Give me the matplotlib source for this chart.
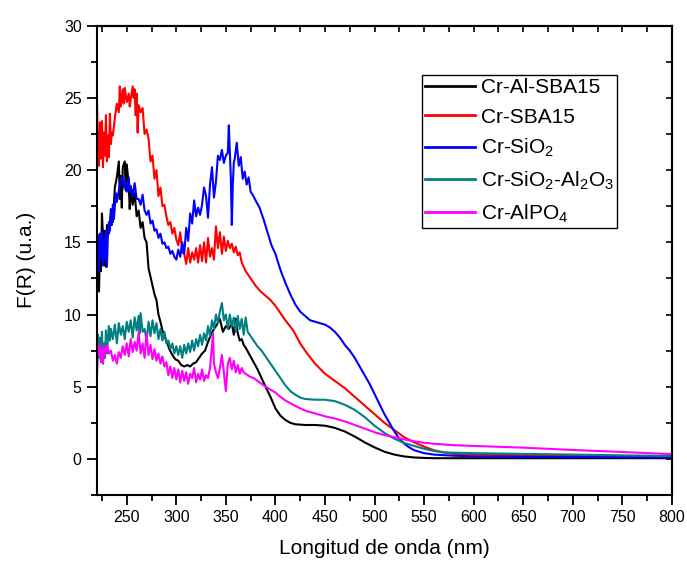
import numpy as np
import matplotlib
matplotlib.use("Agg")
import matplotlib.pyplot as plt
from matplotlib.ticker import MultipleLocator

plt.rcParams['font.family'] = ['Liberation Sans', 'DejaVu Sans']
plt.rcParams['mathtext.fontset'] = 'custom'
plt.rcParams['mathtext.rm'] = 'Liberation Sans'
plt.rcParams['mathtext.it'] = 'Liberation Sans:italic'

# Cr-Al-SBA15
wl_alsba = [220, 221, 222, 223, 224, 225, 226, 227, 228, 229, 230, 232, 234, 236, 238, 240,
            242, 243, 244, 245, 246, 248, 249, 250, 252, 253, 254, 256, 258, 260, 262, 264,
            266, 268, 270, 272, 274, 276, 278, 280, 282, 284, 286, 288, 290, 293, 296, 299,
            302, 305, 308, 311, 314, 317, 320, 323, 326, 329, 332, 335, 338, 341, 344, 347,
            350, 353, 356, 358, 360, 362, 364, 366, 368, 370, 374, 378, 382, 386, 390, 395,
            400, 405, 410, 415, 420, 430, 440, 450, 460, 470, 480, 490, 500, 510, 520, 530,
            540, 550, 560, 580, 600, 800]
fr_alsba = [12.0, 13.5, 11.6, 14.5, 13.0, 17.0, 15.5, 13.4, 15.8, 13.3, 16.2, 15.6, 17.0, 16.4, 18.8, 19.5,
            20.6, 18.0, 19.6, 17.4, 20.2, 20.6, 18.6, 20.4, 19.0, 17.3, 18.6, 17.6, 18.4, 16.8, 17.2, 16.0,
            16.4, 15.3, 15.0, 13.2, 12.6, 12.0, 11.4, 11.0, 10.0, 9.5, 8.9, 8.5, 8.2, 7.6, 7.2, 6.9,
            6.8, 6.5, 6.4, 6.5, 6.4, 6.6, 6.7, 7.0, 7.3, 7.5, 8.1, 8.6, 9.0, 9.3, 9.7, 8.8,
            9.2, 9.0, 9.4, 8.6, 9.7, 8.7, 8.2, 8.3, 7.9, 7.7, 7.2, 6.7, 6.2, 5.6, 5.0, 4.3,
            3.5, 3.0, 2.7, 2.5, 2.4, 2.35, 2.35, 2.3, 2.15, 1.9, 1.55, 1.15, 0.8, 0.5, 0.3, 0.17,
            0.1, 0.07, 0.05, 0.05, 0.05, 0.05]

# Cr-SBA15
wl_sba = [220, 221, 222, 223, 224, 225, 226, 227, 228, 229, 230, 231, 232, 233, 234, 235,
          236, 238, 240, 242, 243, 244, 246, 247, 248, 250, 252, 253, 254, 256, 257, 258,
          259, 260, 261, 262, 264, 266, 268, 270, 272, 274, 276, 278, 280, 282, 284, 286,
          288, 290, 292, 294, 296, 298, 300, 302, 304, 306, 308, 310, 312, 314, 316, 318,
          320, 322, 324, 326, 328, 330, 332, 334, 336, 338, 340, 342, 344, 346, 348, 350,
          352, 354, 356, 358, 360, 362, 364, 366, 368, 370, 375, 380, 385, 390, 395, 400,
          405, 410, 418, 425, 432, 440, 450, 460, 470, 480, 490, 500, 510, 520, 530, 540,
          550, 560, 570, 580, 600, 650, 700, 800]
fr_sba = [24.7, 21.5, 20.3, 23.3, 20.8, 23.4, 20.2, 22.6, 21.0, 23.8, 20.6, 22.4, 20.9, 23.9, 21.8, 22.6,
          22.4, 23.6, 24.6, 24.0, 25.8, 24.4, 25.6, 24.6, 25.7, 24.7, 25.3, 24.4, 24.9, 25.8, 25.0, 25.6,
          23.8, 25.3, 22.6, 24.5, 24.0, 24.3, 22.5, 22.8, 22.2, 20.6, 21.0, 19.4, 20.0, 18.2, 18.8, 17.5,
          17.6, 16.8, 16.2, 16.4, 15.6, 16.0, 15.2, 14.8, 15.7, 14.3, 14.2, 13.5, 14.6, 13.6, 14.3, 13.8,
          14.6, 13.6, 14.8, 13.7, 15.0, 13.6, 15.3, 14.0, 14.6, 13.8, 16.1, 14.6, 15.7, 14.2, 15.4, 14.4,
          15.1, 14.6, 14.9, 14.3, 14.7, 14.1, 14.3, 13.6, 13.3, 13.0, 12.5, 12.0, 11.6, 11.3, 11.0, 10.6,
          10.1, 9.6, 8.9, 8.0, 7.3, 6.6, 5.9, 5.4, 4.9, 4.3, 3.7, 3.1, 2.5, 2.0, 1.5, 1.15,
          0.85, 0.6, 0.45, 0.35, 0.3, 0.25, 0.2, 0.15]

# Cr-SiO2
wl_sio2 = [220, 221, 222, 223, 224, 225, 226, 227, 228, 229, 230, 231, 232, 233, 234, 235,
           236, 237, 238, 239, 240, 242, 244, 246, 247, 248, 250, 252, 253, 254, 256, 258,
           260, 262, 264, 266, 268, 270, 272, 274, 276, 278, 280, 282, 284, 286, 288, 290,
           292, 294, 296, 298, 300, 302, 304, 306, 308, 310, 312, 314, 316, 318, 320, 322,
           324, 326, 328, 330, 332, 334, 336, 338, 340, 342, 344, 346, 348, 350, 352, 353,
           355, 356, 357, 358, 359, 361, 363, 365, 367, 369, 371, 373, 375, 377, 380, 384,
           388, 392, 396, 400, 405, 410, 415, 420, 425, 430, 435, 440, 445, 450, 455, 460,
           465, 470, 475, 480, 485, 490, 495, 500, 505, 510, 515, 520, 525, 530, 535, 540,
           550, 560, 580, 600, 700, 800]
fr_sio2 = [13.2, 15.5, 13.0, 15.6, 14.0, 15.7, 13.4, 15.2, 13.8, 15.8, 13.3, 15.5, 16.4, 15.8, 17.3, 16.2,
           17.6, 16.6, 17.5, 18.4, 17.8, 18.6, 19.4, 19.6, 18.8, 19.2, 18.5, 19.5, 18.5, 18.9, 18.2, 19.1,
           18.0, 18.0, 17.6, 18.3, 17.2, 16.9, 17.2, 16.3, 16.5, 15.8, 15.9, 15.3, 15.6, 14.9, 15.0, 14.6,
           14.7, 14.2, 14.4, 14.0, 13.8, 14.5, 14.0, 15.0, 14.2, 16.0, 15.1, 17.0, 16.3, 17.9, 16.8, 17.4,
           16.9, 17.6, 18.8, 18.2, 16.7, 19.0, 20.2, 18.1, 19.2, 21.0, 20.7, 21.4, 20.5, 21.0, 21.2, 23.1,
           19.5, 16.2, 19.0, 20.5, 20.8, 21.9, 20.3, 20.9, 19.4, 19.9, 19.0, 19.5, 18.5, 18.3, 17.9, 17.4,
           16.6, 15.7, 14.8, 14.2, 13.1, 12.2, 11.4, 10.7, 10.2, 9.9, 9.6, 9.5, 9.4, 9.3, 9.1, 8.8,
           8.4, 7.9, 7.5, 7.0, 6.4, 5.8, 5.2, 4.5, 3.8, 3.1, 2.5, 1.9, 1.4, 1.05, 0.8, 0.6,
           0.4, 0.3, 0.22, 0.18, 0.12, 0.1]

# Cr-SiO2-Al2O3
wl_sial = [220, 221, 222, 223, 224, 225, 226, 227, 228, 229, 230, 232, 233, 234, 236, 238,
           240, 242, 244, 246, 248, 250, 252, 254, 256, 258, 260, 262, 263, 264, 266, 268,
           270, 272, 274, 276, 278, 280, 282, 284, 286, 288, 290, 292, 294, 296, 298, 300,
           302, 304, 306, 308, 310, 312, 314, 316, 318, 320, 322, 324, 326, 328, 330, 332,
           334, 336, 338, 340, 342, 344, 346, 348, 350, 352, 354, 356, 358, 360, 362, 364,
           366, 368, 370, 372, 374, 376, 378, 382, 386, 390, 395, 400, 405, 410, 415, 420,
           425, 430, 440, 450, 460, 470, 480, 490, 500, 510, 520, 530, 540, 550, 560, 570,
           600, 700, 800]
fr_sial = [5.7, 8.6, 7.0, 8.4, 6.7, 8.8, 6.6, 8.0, 7.0, 8.9, 7.3, 9.2, 8.2, 9.0, 8.3, 9.3,
           8.0, 9.4, 8.6, 9.2, 8.3, 9.5, 8.8, 9.6, 8.4, 9.8, 8.9, 9.9, 8.7, 10.1, 8.8, 9.0,
           8.2, 9.5, 8.5, 9.6, 8.7, 9.4, 8.3, 9.0, 8.2, 8.8, 8.0, 8.2, 7.6, 8.0, 7.3, 7.8,
           7.2, 7.8, 7.0, 7.9, 7.3, 8.0, 7.4, 8.2, 7.5, 8.3, 7.8, 8.6, 7.9, 8.7, 8.2, 9.2,
           8.5, 9.6, 9.0, 10.0, 9.4, 10.2, 10.8, 9.6, 10.0, 9.0, 10.0, 9.2, 9.8, 8.8, 9.9, 9.0,
           9.7, 8.6, 9.8, 8.8, 8.6, 8.4, 8.2, 7.8, 7.5, 7.1, 6.6, 6.1, 5.6, 5.1, 4.7, 4.45,
           4.25, 4.15, 4.1, 4.1, 4.0, 3.75, 3.4, 2.9, 2.3, 1.8, 1.4, 1.1, 0.9, 0.7, 0.55, 0.45,
           0.4, 0.3, 0.2]

# Cr-AlPO4
wl_alpo = [220, 221, 222, 223, 224, 225, 226, 227, 228, 230, 232, 234, 236, 238, 240, 242,
           244, 246, 248, 250, 252, 254, 256, 258, 260, 262, 264, 266, 268, 270, 272, 274,
           276, 278, 280, 282, 284, 286, 288, 290, 292, 294, 296, 298, 300, 302, 304, 306,
           308, 310, 312, 314, 316, 318, 320, 322, 324, 326, 328, 330, 332, 334, 336, 337,
           338, 340, 342, 344, 346, 348, 350, 352, 354, 356, 358, 360, 362, 364, 366, 368,
           370, 374, 378, 382, 386, 390, 395, 400, 405, 410, 418, 425, 432, 440, 450, 460,
           470, 480, 490, 500, 510, 520, 530, 540, 550, 560, 580, 600, 650, 700, 750, 800]
fr_alpo = [6.3, 8.0, 7.2, 7.8, 6.8, 7.6, 6.6, 7.8, 7.2, 7.9, 7.3, 7.5, 6.8, 7.2, 6.6, 7.4,
           7.0, 7.8, 7.2, 8.0, 7.1, 8.3, 7.4, 8.1, 7.5, 8.8, 7.3, 8.0, 7.0, 8.7, 7.2, 7.9,
           6.9, 7.6, 6.8, 7.3, 6.6, 7.1, 6.4, 6.7, 5.8, 6.4, 5.6, 6.3, 5.5, 6.2, 5.3, 6.1,
           5.4, 6.0, 5.2, 5.9, 5.6, 6.3, 5.3, 5.9, 5.5, 6.2, 5.4, 5.8, 5.6, 6.3, 7.8, 8.7,
           6.6, 6.0, 5.6, 6.3, 7.2, 6.0, 4.7, 6.6, 7.0, 6.2, 6.8, 6.0, 6.5, 5.9, 6.3, 6.0,
           5.9, 5.7, 5.6, 5.4, 5.2, 5.0, 4.8, 4.6, 4.3, 4.05, 3.75, 3.5, 3.3, 3.15, 2.95, 2.8,
           2.6, 2.35, 2.1, 1.85, 1.65, 1.5, 1.35, 1.22, 1.12, 1.05, 0.95, 0.9, 0.78, 0.62, 0.48, 0.33]

series = [
    (wl_alsba, fr_alsba, 'black', 'Cr-Al-SBA15'),
    (wl_sba, fr_sba, '#ff0000', 'Cr-SBA15'),
    (wl_sio2, fr_sio2, '#0000ff', 'Cr-SiO$_2$'),
    (wl_sial, fr_sial, '#008080', 'Cr-SiO$_2$-Al$_2$O$_3$'),
    (wl_alpo, fr_alpo, '#ff00ff', 'Cr-AlPO$_4$'),
]

fig = plt.figure(figsize=(6.87, 5.61), dpi=100)
ax = fig.add_axes([0.1412, 0.1176, 0.8368, 0.8366])

for wl, fr, c, lab in series:
    ax.plot(wl, fr, color=c, lw=1.5, label=lab)

ax.set_xlim(220, 800)
ax.set_ylim(-2.5, 30)
ax.xaxis.set_major_locator(MultipleLocator(50))
ax.xaxis.set_minor_locator(MultipleLocator(25))
ax.yaxis.set_major_locator(MultipleLocator(5))
ax.yaxis.set_minor_locator(MultipleLocator(2.5))
ax.tick_params(which='major', direction='out', length=7, width=1.3, labelsize=11.5, pad=4)
ax.tick_params(which='minor', direction='out', length=4, width=1.3)

# opposite sides: short ticks pointing inwards, no labels
top = ax.secondary_xaxis('top')
top.xaxis.set_major_locator(MultipleLocator(25))
top.tick_params(direction='in', length=4, width=1.2, labeltop=False)
right = ax.secondary_yaxis('right')
right.yaxis.set_major_locator(MultipleLocator(2.5))
right.tick_params(direction='in', length=4, width=1.2, labelright=False)

for s in ax.spines.values():
    s.set_linewidth(1.5)
for s in top.spines.values():
    s.set_linewidth(1.5)
for s in right.spines.values():
    s.set_linewidth(1.5)

ax.set_xlabel('Longitud de onda (nm)', fontsize=15, labelpad=10)
ax.set_ylabel('F(R) (u.a.)', fontsize=15, labelpad=20)

leg = ax.legend(loc='upper left', bbox_to_anchor=(0.565, 0.895), fontsize=15,
                frameon=True, fancybox=False, edgecolor='black', framealpha=1,
                handlelength=2.4, handletextpad=0.3, borderpad=0.15, labelspacing=0.5,
                borderaxespad=0)
leg.get_frame().set_linewidth(1.0)
for line in leg.get_lines():
    line.set_linewidth(2)

fig.savefig('out.png', dpi=100)
